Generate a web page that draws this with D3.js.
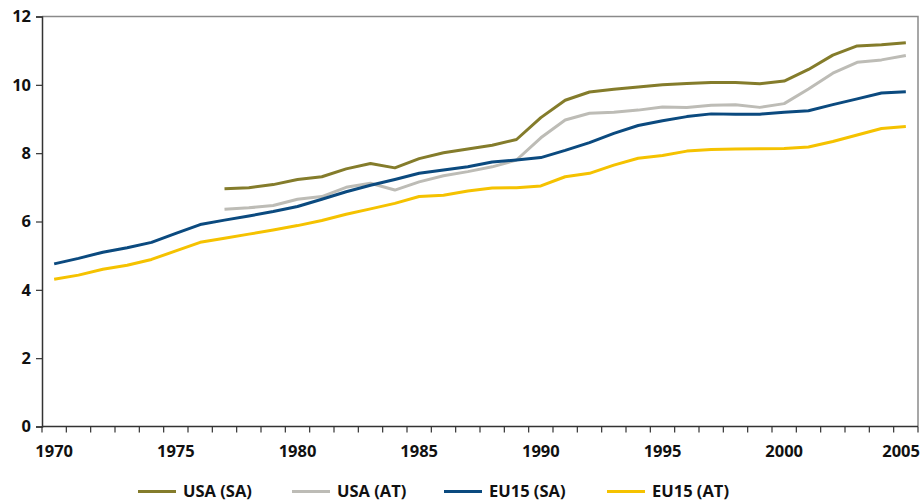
<!DOCTYPE html>
<html>
<head>
<meta charset="utf-8">
<script src="https://cdn.jsdelivr.net/npm/d3@7"></script>
<style>
  html, body { margin: 0; padding: 0; background: #fff; }
  svg { display: block; }
  text { font-family: "Open Sans", "Noto Sans", sans-serif; font-weight: 700; fill: #111; }
</style>
</head>
<body>
<svg id="chart" width="921" height="502"></svg>
<script>
const years = d3.range(1970, 2006);
const seriesNames = ["USA (SA)", "USA (AT)", "EU15 (SA)", "EU15 (AT)"];
const seriesColors = ["#847c2b", "#bdbcb6", "#0b4a7f", "#f5c200"];
const yTicks = [0, 2, 4, 6, 8, 10, 12];
const xLabelYears = [1970, 1975, 1980, 1985, 1990, 1995, 2000, 2005];

const usaSA = [null, null, null, null, null, null, null,
  6.96, 6.99, 7.08, 7.23, 7.31, 7.54, 7.70, 7.57, 7.84, 8.01,
  8.12, 8.23, 8.40, 9.04, 9.55, 9.79, 9.87, 9.94, 10.00, 10.04,
  10.07, 10.07, 10.03, 10.11, 10.45, 10.87, 11.14, 11.17, 11.23];
const usaAT = [null, null, null, null, null, null, null,
  6.36, 6.40, 6.47, 6.65, 6.73, 7.00, 7.12, 6.92, 7.16, 7.34,
  7.46, 7.60, 7.80, 8.45, 8.97, 9.17, 9.20, 9.26, 9.35, 9.34,
  9.40, 9.42, 9.34, 9.45, 9.88, 10.34, 10.66, 10.73, 10.86];
const eu15SA = [4.76, 4.92, 5.10, 5.23, 5.39, 5.65, 5.91, 6.04, 6.16, 6.29,
  6.44, 6.65, 6.87, 7.06, 7.23, 7.41, 7.51, 7.60, 7.74, 7.80,
  7.87, 8.08, 8.31, 8.58, 8.81, 8.95, 9.07, 9.15, 9.14, 9.14,
  9.20, 9.24, 9.42, 9.59, 9.76, 9.80];
const eu15AT = [4.31, 4.43, 4.60, 4.72, 4.89, 5.14, 5.39, 5.51, 5.63, 5.75,
  5.88, 6.03, 6.21, 6.37, 6.53, 6.73, 6.77, 6.89, 6.98, 6.99,
  7.04, 7.31, 7.41, 7.65, 7.85, 7.93, 8.06, 8.11, 8.12, 8.13,
  8.14, 8.18, 8.34, 8.53, 8.72, 8.78];

const seriesValues = [usaSA, usaAT, eu15SA, eu15AT];

(function draw() {
  const svg = d3.select("#chart");
  const pLeft = 42, pRight = 918, pTop = 16.5, pBottom = 426.5;
  const fs = 16.5;

  const x = d3.scaleBand().domain(years).range([pLeft, pRight]).padding(0);
  const y = d3.scaleLinear().domain([0, 12]).range([pBottom, pTop]);
  const cx = yr => x(yr) + x.bandwidth() / 2;

  // frame (top and right)
  svg.append("path")
    .attr("d", `M${pLeft},${pTop}H${pRight}V${pBottom}`)
    .attr("fill", "none").attr("stroke", "#8a8a8a").attr("stroke-width", 1.5);

  // y axis
  const yAxis = svg.append("g").attr("transform", `translate(${pLeft},0)`)
    .call(d3.axisLeft(y).tickValues(yTicks).tickSize(6).tickPadding(5).tickFormat(d3.format("d")));
  yAxis.select(".domain").attr("stroke", "#333").attr("stroke-width", 1.5);
  yAxis.selectAll(".tick line").attr("stroke", "#333").attr("stroke-width", 1.2);
  yAxis.selectAll("text").attr("font-size", fs).attr("fill", "#111")
    .style("font-family", '"Open Sans", sans-serif').style("font-weight", 700);

  // x axis: labels at category centres
  const xAxis = svg.append("g").attr("transform", `translate(0,${pBottom})`)
    .call(d3.axisBottom(x).tickValues(xLabelYears).tickSize(0).tickPadding(19).tickFormat(d3.format("d")));
  xAxis.select(".domain").remove();
  xAxis.selectAll("text").attr("font-size", fs).attr("fill", "#111")
    .style("font-family", '"Open Sans", sans-serif').style("font-weight", 700);
  // keep the last label inside the picture
  const lastYear = xLabelYears[xLabelYears.length - 1];
  xAxis.selectAll(".tick").filter(d => d === lastYear).select("text")
    .attr("text-anchor", "end")
    .attr("x", 920 - (x(lastYear) + x.bandwidth() / 2));

  // x axis line and tick marks between categories
  const boundaries = years.map(yr => x(yr)).concat([x.range()[1]]);
  svg.append("line").attr("x1", pLeft).attr("x2", pRight).attr("y1", pBottom).attr("y2", pBottom)
    .attr("stroke", "#333").attr("stroke-width", 1.5);
  svg.append("g").selectAll("line").data(boundaries).join("line")
    .attr("x1", d => d).attr("x2", d => d)
    .attr("y1", pBottom).attr("y2", pBottom + 6)
    .attr("stroke", "#333").attr("stroke-width", 1.2);

  // lines
  const line = d3.line()
    .defined(d => d.v !== null)
    .x(d => cx(d.yr))
    .y(d => y(d.v));

  seriesValues.forEach((vals, i) => {
    const pts = years.map((yr, j) => ({ yr, v: vals[j] }));
    svg.append("path").datum(pts)
      .attr("d", line)
      .attr("fill", "none")
      .attr("stroke", seriesColors[i])
      .attr("stroke-width", 3)
      .attr("stroke-linejoin", "round");
  });

  // legend
  const legendX = [138, 292, 444, 607];
  const legendY = 491.5;
  const lg = svg.append("g");
  seriesNames.forEach((name, i) => {
    lg.append("line")
      .attr("x1", legendX[i]).attr("x2", legendX[i] + 38)
      .attr("y1", legendY).attr("y2", legendY)
      .attr("stroke", seriesColors[i]).attr("stroke-width", 3);
    lg.append("text")
      .attr("x", legendX[i] + 45).attr("y", legendY)
      .attr("dy", "0.36em")
      .attr("font-size", fs)
      .text(name);
  });
})();
</script>
</body>
</html>
